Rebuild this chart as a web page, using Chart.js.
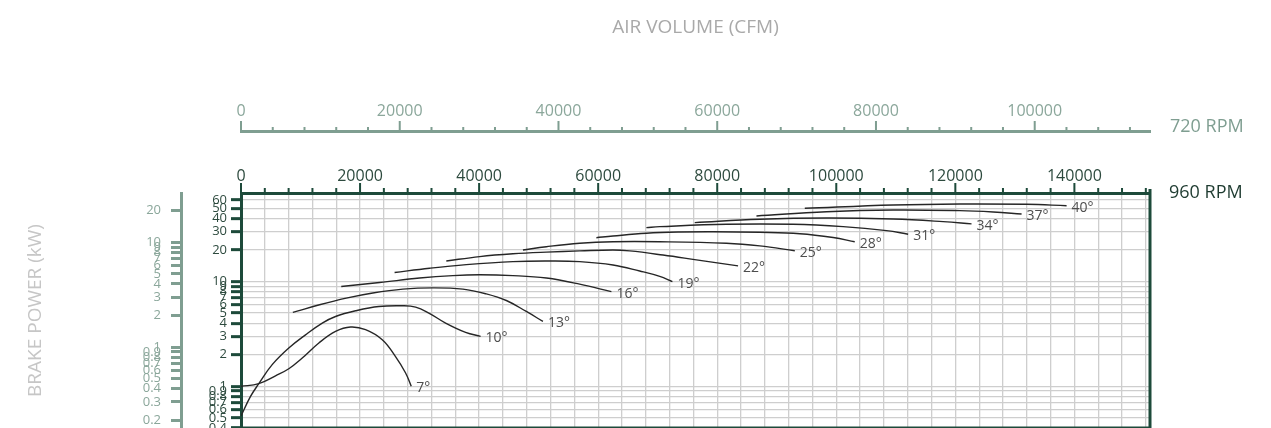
<!DOCTYPE html>
<html>
<head>
<meta charset="utf-8">
<script src="https://cdn.jsdelivr.net/npm/chart.js@4.4.1/dist/chart.umd.min.js"></script>
<style>
  html, body { margin: 0; padding: 0; background: #fff; overflow: hidden; }
  #area { width: 1271px; height: 428px; }
</style>
</head>
<body>
<div id="area"><canvas id="grafico" width="1271" height="428"></canvas></div>
<script>
// curvas por angulo de pa: vazao (CFM a 960 RPM) x potencia (kW a 960 RPM)
const angulos = ['7°', '10°', '13°', '16°', '19°', '22°', '25°', '28°', '31°', '34°', '37°', '40°'];

const cfm7 = [0, 2990, 5800, 8030, 10290, 13080, 15880, 18400, 20920, 23730, 25960, 27650, 28600];
const kw7 = [1.00, 1.06, 1.26, 1.47, 1.86, 2.59, 3.34, 3.68, 3.47, 2.78, 1.92, 1.34, 1.00];

const cfm10 = [0, 1600, 2990, 5240, 8030, 10840, 13650, 15880, 19240, 23170, 27090, 29330, 31560, 34370, 37730, 40250];
const kw10 = [0.52, 0.80, 1.06, 1.61, 2.32, 3.10, 4.01, 4.64, 5.26, 5.78, 5.87, 5.70, 5.00, 4.01, 3.27, 3.00];

const cfm13 = [8710, 13190, 17680, 22150, 27190, 32240, 37280, 41210, 44570, 47930, 50720];
const kw13 = [5.07, 6.00, 6.94, 7.77, 8.46, 8.70, 8.46, 7.62, 6.59, 5.18, 4.16];

const cfm16 = [16840, 23280, 30000, 35600, 40090, 45680, 51300, 56890, 62220];
const kw16 = [8.97, 9.78, 10.8, 11.4, 11.6, 11.4, 10.8, 9.45, 8.0];

const cfm19 = [25800, 31680, 37850, 45680, 51300, 56890, 62490, 66980, 70340, 72470];
const kw19 = [12.2, 13.4, 14.5, 15.5, 15.7, 15.5, 14.4, 12.6, 11.2, 10.0];

const cfm22 = [34490, 40090, 45680, 51300, 56890, 62490, 65300, 70890, 76510, 83500];
const kw22 = [15.7, 17.3, 18.4, 19.1, 19.6, 20.0, 19.6, 17.9, 16.1, 14.1];

const cfm25 = [47360, 51300, 56890, 62490, 70340, 81550, 87150, 93030];
const kw25 = [20.0, 21.5, 23.2, 24.0, 24.0, 23.2, 21.9, 19.7];

const cfm28 = [59700, 62490, 68100, 73700, 79300, 87150, 93880, 99470, 103100];
const kw28 = [26.2, 27.2, 28.9, 29.7, 29.9, 29.5, 28.6, 26.3, 24.0];

const cfm31 = [68100, 70340, 81550, 92740, 101140, 108440, 112070];
const kw31 = [32.7, 33.4, 35.2, 35.2, 33.4, 30.6, 28.3];

const cfm34 = [76220, 87150, 98360, 109550, 117950, 122720];
const kw34 = [36.5, 39.3, 40.4, 39.5, 37.3, 35.5];

const cfm37 = [86590, 98360, 109550, 120760, 126360, 131130];
const kw37 = [42.2, 46.4, 48.2, 47.5, 46.1, 44.1];

const cfm40 = [94710, 109550, 120760, 131970, 138690];
const kw40 = [50.0, 53.8, 55.0, 54.6, 52.9];

// rotulos dos eixos
const cfm960Rotulos = [0, 20000, 40000, 60000, 80000, 100000, 120000, 140000];
const cfm720Rotulos = [0, 20000, 40000, 60000, 80000, 100000];
const kw960Ticks = [0.4, 0.5, 0.6, 0.7, 0.8, 0.9, 1, 2, 3, 4, 5, 6, 7, 8, 9, 10, 20, 30, 40, 50, 60];
const kw720Ticks = [0.2, 0.3, 0.4, 0.5, 0.6, 0.7, 0.8, 0.9, 1, 2, 3, 4, 5, 6, 7, 8, 9, 10, 20];

const curvas = [
  [cfm7, kw7], [cfm10, kw10], [cfm13, kw13], [cfm16, kw16], [cfm19, kw19], [cfm22, kw22],
  [cfm25, kw25], [cfm28, kw28], [cfm31, kw31], [cfm34, kw34], [cfm37, kw37], [cfm40, kw40]
];

const COR_ESCURA = '#1d4a3a';
const COR_CLARA = '#7f9e91';
const COR_GRADE = '#cecece';
const FONTE = '"Open Sans", sans-serif';
const fatorRpm = 720 / 960;
const fatorPot = Math.pow(fatorRpm, 3); // potencia cai com o cubo da rotacao
const maxCfm = 152700;
const minKw = 0.4, maxKw = 70;

const passos = (max) => {
  const t = [];
  for (let v = 0; v <= max; v += 4000) t.push({ value: v });
  return t;
};

function marcas(ctx, escala, cor, longa, curta, rotulos) {
  const y = escala.bottom;
  ctx.strokeStyle = cor;
  ctx.lineWidth = 2;
  ctx.beginPath();
  escala.ticks.forEach(t => {
    const x = escala.getPixelForValue(t.value);
    const len = rotulos.includes(t.value) ? longa : curta;
    ctx.moveTo(x, y);
    ctx.lineTo(x, y - len);
  });
  ctx.stroke();
}

const decoracao = {
  id: 'decoracao',
  afterDatasetsDraw(chart) {
    const { ctx } = chart;
    ctx.save();
    ctx.font = `14px ${FONTE}`;
    ctx.fillStyle = '#4d4d4d';
    ctx.textAlign = 'left';
    ctx.textBaseline = 'middle';
    chart.data.datasets.forEach((ds, i) => {
      const pts = chart.getDatasetMeta(i).data;
      const fim = pts[pts.length - 1];
      ctx.fillText(angulos[i], fim.x + 5, fim.y + 2);
    });
    ctx.restore();
  },
  afterDraw(chart) {
    const { ctx, chartArea: a, scales } = chart;
    ctx.save();
    ctx.strokeStyle = COR_ESCURA;
    ctx.lineWidth = 3;
    ctx.beginPath();
    ctx.moveTo(a.right, a.top - 4);
    ctx.lineTo(a.right, a.bottom);
    ctx.lineTo(a.left, a.bottom);
    ctx.stroke();

    marcas(ctx, scales.x, COR_ESCURA, 10, 5, cfm960Rotulos);
    marcas(ctx, scales.x720, COR_CLARA, 10, 4, cfm720Rotulos);

    ctx.font = `18px ${FONTE}`;
    ctx.textAlign = 'left';
    ctx.textBaseline = 'middle';
    ctx.fillStyle = COR_CLARA;
    ctx.fillText('720 RPM', a.right + 20, scales.x720.bottom - 4);
    ctx.fillStyle = '#1e3b30';
    ctx.fillText('960 RPM', a.right + 19, scales.x.bottom);
    ctx.restore();
  }
};

const ctx = document.getElementById('grafico').getContext('2d');

new Chart(ctx, {
  type: 'line',
  data: {
    datasets: curvas.map((c, i) => ({
      label: angulos[i],
      data: c[0].map((x, j) => ({ x, y: c[1][j] })),
      borderColor: '#262626',
      borderWidth: 1.4,
      pointRadius: 0,
      fill: false,
      tension: 0.4,
      xAxisID: 'x',
      yAxisID: 'y'
    }))
  },
  options: {
    responsive: false,
    animation: false,
    events: [],
    layout: { padding: { left: 0, right: 121, top: 0, bottom: 0 } },
    plugins: { legend: { display: false }, tooltip: { enabled: false } },
    scales: {
      x: {
        type: 'linear', position: 'top', weight: 0, min: 0, max: maxCfm,
        afterBuildTicks: s => { s.ticks = passos(maxCfm); },
        afterFit: s => { s.height = 62; s.paddingLeft = 0; s.paddingRight = 0; },
        grid: { color: COR_GRADE, lineWidth: 1.3, tickLength: 7, tickColor: 'transparent' },
        border: { color: COR_ESCURA, width: 3 },
        ticks: {
          autoSkip: false, maxRotation: 0, padding: 0, color: '#2d4a3e',
          font: { family: FONTE, size: 16 },
          callback: v => cfm960Rotulos.includes(v) ? String(v) : ''
        }
      },
      x720: {
        type: 'linear', position: 'top', weight: 1, min: 0, max: maxCfm * fatorRpm,
        afterBuildTicks: s => { s.ticks = passos(maxCfm * fatorRpm); },
        afterFit: s => { s.height = 131; s.paddingLeft = 0; s.paddingRight = 0; },
        grid: { drawOnChartArea: false, tickLength: 7, tickColor: 'transparent' },
        border: { color: COR_CLARA, width: 3 },
        ticks: {
          autoSkip: false, maxRotation: 0, padding: 3, color: '#8ba79b',
          font: { family: FONTE, size: 16 },
          callback: v => cfm720Rotulos.includes(v) ? String(v) : ''
        },
        title: {
          display: true, text: 'AIR VOLUME (CFM)', color: '#a9a9a9',
          font: { family: FONTE, size: 19 }, padding: { top: 16, bottom: 0 }
        }
      },
      y: {
        type: 'logarithmic', position: 'left', weight: 0, min: minKw, max: maxKw,
        afterBuildTicks: s => { s.ticks = kw960Ticks.map(v => ({ value: v })); },
        afterFit: s => { s.width = 60; s.paddingTop = 0; s.paddingBottom = 0; },
        grid: { color: COR_GRADE, lineWidth: 1.3, tickLength: 10, tickColor: COR_ESCURA, tickWidth: 3 },
        border: { color: COR_ESCURA, width: 3 },
        ticks: {
          autoSkip: false, padding: 4, color: '#2d4a3e',
          font: { family: FONTE, size: 13 },
          callback: v => String(v)
        }
      },
      y720: {
        type: 'logarithmic', position: 'left', weight: 1, min: minKw * fatorPot, max: maxKw * fatorPot,
        afterBuildTicks: s => { s.ticks = kw720Ticks.map(v => ({ value: v })); },
        afterFit: s => { s.width = 181; s.paddingTop = 0; s.paddingBottom = 0; },
        grid: { drawOnChartArea: false, tickLength: 10, tickColor: COR_CLARA, tickWidth: 3 },
        border: { color: COR_CLARA, width: 3 },
        ticks: {
          autoSkip: false, padding: 10, color: '#8ba79b',
          font: { family: FONTE, size: 13 },
          callback: v => String(v)
        },
        title: {
          display: true, text: 'BRAKE POWER (kW)', color: '#c6c6c6',
          font: { family: FONTE, size: 19 }, padding: { top: 24, bottom: 0 }
        }
      }
    }
  },
  plugins: [decoracao]
});
</script>
</body>
</html>
